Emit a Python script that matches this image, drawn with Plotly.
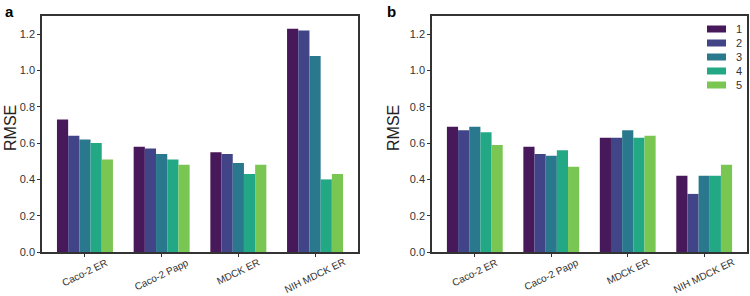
import plotly.graph_objects as go
from plotly.subplots import make_subplots

categories = ["Caco-2 ER", "Caco-2 Papp", "MDCK ER", "NIH MDCK ER"]
series_names = ["1", "2", "3", "4", "5"]

# Panel a values (series 1..5, each over categories)
panel_a = [
    [0.73, 0.58, 0.55, 1.23],
    [0.64, 0.57, 0.54, 1.22],
    [0.62, 0.54, 0.49, 1.08],
    [0.60, 0.51, 0.43, 0.40],
    [0.51, 0.48, 0.48, 0.43],
]
# Panel b values
panel_b = [
    [0.69, 0.58, 0.63, 0.42],
    [0.67, 0.54, 0.63, 0.32],
    [0.69, 0.53, 0.67, 0.42],
    [0.66, 0.56, 0.63, 0.42],
    [0.59, 0.47, 0.64, 0.48],
]
y_ticks = [0.0, 0.2, 0.4, 0.6, 0.8, 1.0, 1.2]

colors = ["#47195a", "#414487", "#2a788e", "#22a884", "#7ac652"]

fig = make_subplots(rows=1, cols=2)

for i, name in enumerate(series_names):
    fig.add_trace(go.Bar(x=categories, y=panel_a[i], name=name,
                         marker=dict(color=colors[i], line=dict(width=0)),
                         showlegend=False), row=1, col=1)
for i, name in enumerate(series_names):
    fig.add_trace(go.Bar(x=categories, y=panel_b[i], name=name,
                         marker=dict(color=colors[i], line=dict(width=0)),
                         showlegend=False), row=1, col=2)

W, H = 750, 296
ydom = [1 - 252 / H, 1 - 16 / H]
FONT = "Liberation Sans, Arial"
axis_common = dict(showline=True, mirror=True, linecolor="#333333", linewidth=1.5,
                   showgrid=False, zeroline=False, ticks="outside", ticklen=3,
                   automargin=False,
                   tickcolor="#333333", tickfont=dict(family=FONT, size=11, color="#333333"))

fig.update_layout(
    width=W, height=H, margin=dict(l=0, r=0, t=0, b=0, autoexpand=False),
    plot_bgcolor="white", paper_bgcolor="white",
    barmode="group", bargap=0.27, bargroupgap=0,
    font=dict(family=FONT, color="#333333"),
    showlegend=False,
    xaxis=dict(domain=[42 / W, 358 / W], range=[-0.56, 3.56], showticklabels=False, **axis_common),
    xaxis2=dict(domain=[432 / W, 747 / W], range=[-0.56, 3.56], showticklabels=False, **axis_common),
    yaxis=dict(domain=ydom, range=[0, 1.3], tickvals=y_ticks, ticktext=[f"{v:.1f}" for v in y_ticks], **axis_common),
    yaxis2=dict(domain=ydom, range=[0, 1.3], tickvals=y_ticks, ticktext=[f"{v:.1f}" for v in y_ticks], **axis_common),
)

# Category labels, rotated about their centre (centred under each tick)
for xr in ("x", "x2"):
    for c in categories:
        fig.add_annotation(text=c, x=c, xref=xr, y=1 - 255 / H, yref="paper",
                           xanchor="center", yanchor="top", textangle=-26, showarrow=False,
                           borderpad=0,
                           font=dict(size=10, color="#333333", family=FONT))

# Legend drawn inside panel b (wide swatches, compact rows)
for i, name in enumerate(series_names):
    yc = 1 - (29 + 14 * i) / H
    fig.add_shape(type="rect", xref="paper", yref="paper",
                  x0=707 / W, x1=726 / W, y0=yc - 3.5 / H, y1=yc + 3.5 / H,
                  fillcolor=colors[i], line=dict(width=0))
    fig.add_annotation(text=name, x=734 / W, y=yc, xref="paper", yref="paper",
                       xanchor="left", yanchor="middle", showarrow=False,
                       font=dict(size=11, color="#333333", family=FONT))

for xp in (10, 393):
    fig.add_annotation(text="RMSE", x=xp / W, y=1 - 128 / H, xref="paper", yref="paper",
                       xanchor="center", yanchor="middle",
                       textangle=-90, showarrow=False, font=dict(size=16, color="#222222", family=FONT))
for xp, lab in ((3, "a"), (385, "b")):
    fig.add_annotation(text=f"<b>{lab}</b>", x=xp / W, y=1 - 1 / H, xref="paper", yref="paper",
                       xanchor="left", yanchor="top", showarrow=False,
                       font=dict(size=15, color="black", family=FONT))

fig.write_html("out.html")
